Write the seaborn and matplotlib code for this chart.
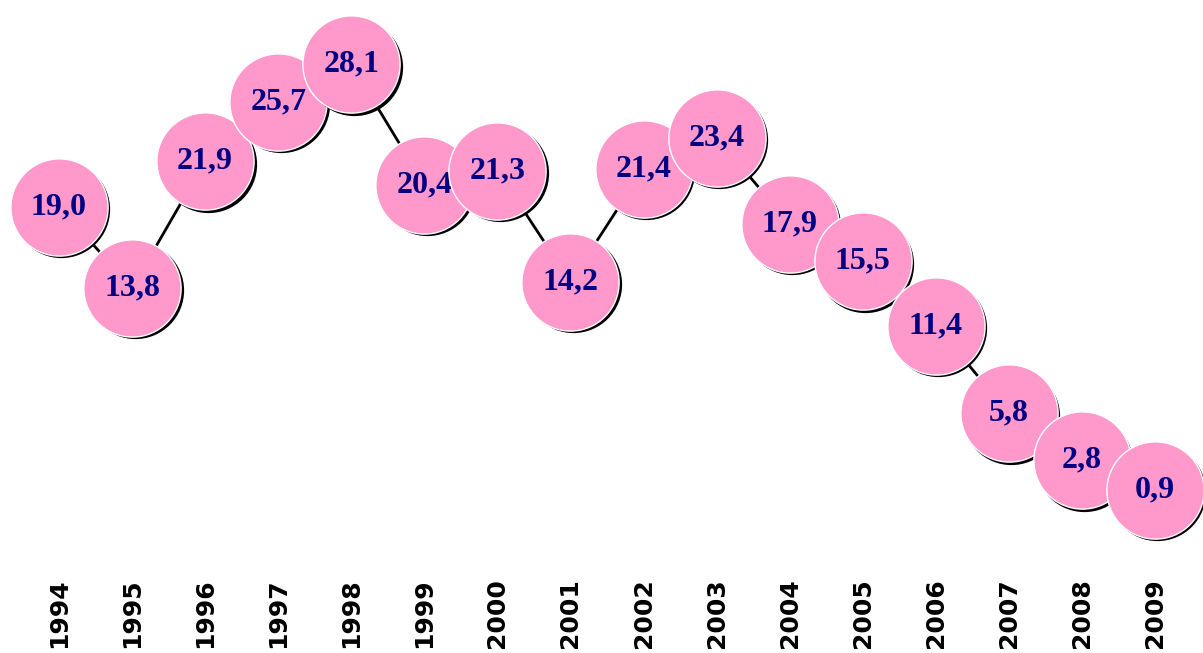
import numpy as np
import pandas as pd
import seaborn as sns
import matplotlib.pyplot as plt
from matplotlib.transforms import offset_copy

years = [1994, 1995, 1996, 1997, 1998, 1999, 2000, 2001,
         2002, 2003, 2004, 2005, 2006, 2007, 2008, 2009]
values = [19.0, 13.8, 21.9, 25.7, 28.1, 20.4, 21.3, 14.2,
          21.4, 23.4, 17.9, 15.5, 11.4, 5.8, 2.8, 0.9]
labels = ["19,0", "13,8", "21,9", "25,7", "28,1", "20,4", "21,3", "14,2",
          "21,4", "23,4", "17,9", "15,5", "11,4", "5,8", "2,8", "0,9"]

df = pd.DataFrame({"year": years, "value": values})

sns.set_style("white")
fig = plt.figure(figsize=(12.03, 6.53), dpi=100)
ax = fig.add_axes([0, 83 / 653, 1, 570 / 653])

sns.lineplot(data=df, x="year", y="value", color="black", linewidth=2, ax=ax, zorder=1)

# circles drawn one by one so later ones sit on top, each with a small dark shadow
shadow = offset_copy(ax.transData, fig=fig, x=2.5, y=-2.5, units="dots")
for i in range(len(df)):
    row = df.iloc[[i]]
    ax.scatter(row["year"], row["value"], s=70 ** 2, color="black",
               transform=shadow, zorder=2 + 2 * i, linewidths=0)
    sns.scatterplot(data=row, x="year", y="value", s=70 ** 2, color="#ff99cc",
                    edgecolor="white", linewidth=1, ax=ax, zorder=3 + 2 * i, legend=False)
    ax.text(years[i], values[i], labels[i], ha="center", va="center",
            fontsize=23, fontweight="bold", color="#000080",
            family="Liberation Serif", zorder=3 + 2 * i)

ax.set_xlim(1993.193, 2009.657)
ax.set_ylim(-4.21, 32.19)
ax.set_xticks(years)
ax.set_xticklabels([str(y) for y in years], rotation=90, fontsize=18,
                   fontweight="bold", family="DejaVu Sans", va="top", color="black")
ax.tick_params(axis="x", length=0, pad=6)
ax.set_yticks([])
ax.set_xlabel("")
ax.set_ylabel("")
sns.despine(ax=ax, left=True, bottom=True)

fig.savefig("out.png", dpi=100)
